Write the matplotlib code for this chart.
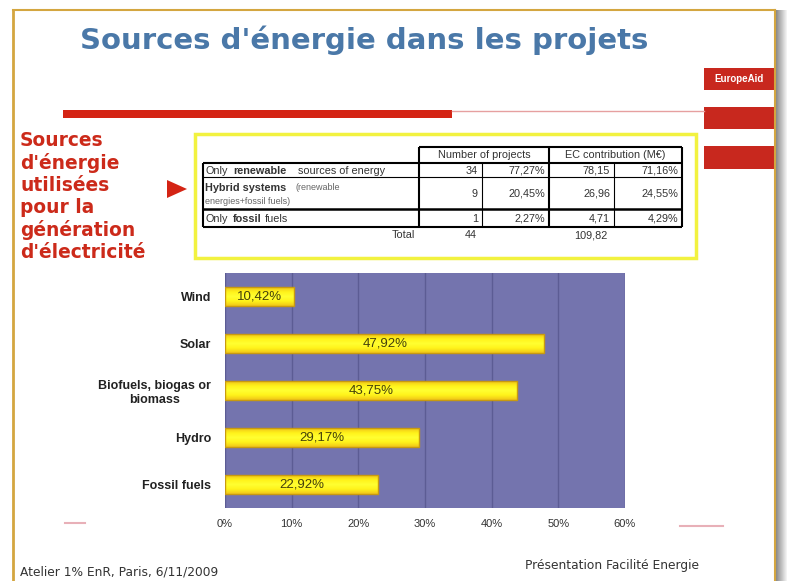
import matplotlib.pyplot as plt
import numpy as np
from matplotlib.patches import Rectangle, Polygon
from matplotlib.colors import LinearSegmentedColormap

# chart data
sources = ["Wind", "Solar", "Biofuels, biogas or\nbiomass", "Hydro", "Fossil fuels"]
shares = [10.42, 47.92, 43.75, 29.17, 22.92]
x_ticks = [0, 10, 20, 30, 40, 50, 60]

# table data
n_projects = [34, 9, 1]
pct_projects = ["77,27%", "20,45%", "2,27%"]
ec_contrib = ["78,15", "26,96", "4,71"]
pct_ec = ["71,16%", "24,55%", "4,29%"]
total_projects = "44"
total_ec = "109,82"

side_lines = ["Sources", "d'énergie", "utilisées", "pour la", "génération", "d'électricité"]

W, H = 787, 581
fig = plt.figure(figsize=(W / 100, H / 100), dpi=100)
fig.patch.set_facecolor("white")

# overlay axes in pixel coordinates for the slide decoration
bg = fig.add_axes([0, 0, 1, 1], zorder=0)
bg.set_xlim(0, W)
bg.set_ylim(H, 0)
bg.axis("off")

# slide frame
gold = "#d4a640"
bg.plot([13, 13], [10, H], color=gold, lw=2)
bg.plot([13, 775], [10, 10], color=gold, lw=1.5)
for i, c in enumerate(np.linspace(0.55, 0.95, 11)):
    bg.add_patch(Rectangle((776 + i, 10), 1, H, color=str(c), lw=0))
bg.plot([775, 775], [10, H], color=gold, lw=1.5)

# title
bg.text(364, 40, "Sources d'énergie dans les projets", ha="center", va="center",
        fontsize=21, fontweight="bold", color="#4a78a8", family="DejaVu Sans")

# red bars / EuropeAid
red = "#c8281e"
bg.add_patch(Rectangle((704, 68), 70, 22, color=red, lw=0))
bg.text(739, 79, "EuropeAid", ha="center", va="center", color="white",
        fontsize=7, fontweight="bold", family="Liberation Sans")
bg.add_patch(Rectangle((704, 107), 70, 22, color=red, lw=0))
bg.add_patch(Rectangle((704, 146), 70, 23, color=red, lw=0))
bg.add_patch(Rectangle((63, 110), 389, 8, color="#d42414", lw=0))
bg.plot([452, 704], [111, 111], color="#e6a0a0", lw=1)

# pale red lines near the axis
bg.plot([65, 85], [523, 523], color="#e8b0b8", lw=1.5)
bg.plot([680, 723], [526, 526], color="#e8b0b8", lw=1.5)

# left text
for i, s in enumerate(side_lines):
    bg.text(20, 140 + i * 22.6, s, ha="left", va="center", fontsize=13.4,
            fontweight="bold", color="#cc2a1a", family="DejaVu Sans")
bg.add_patch(Polygon([(167, 180), (167, 198), (187, 189)], closed=True,
                     color="#d42414", lw=0))

# yellow box with table
bg.add_patch(Rectangle((195, 134), 501, 124, facecolor="white",
                       edgecolor="#f2f240", lw=2.5))
tk = dict(color="black", solid_capstyle="butt")
bg.plot([419, 682], [147, 147], lw=1.5, **tk)
bg.plot([549, 549], [147, 227], lw=1.5, **tk)
bg.plot([419, 419], [147, 227], lw=1.5, **tk)
bg.plot([682, 682], [147, 227], lw=1.5, **tk)
bg.plot([203, 203], [163, 227], lw=1.5, **tk)
bg.plot([482, 482], [163, 227], lw=0.8, **tk)
bg.plot([614, 614], [163, 227], lw=0.8, **tk)
bg.plot([203, 682], [163, 163], lw=1.5, **tk)
bg.plot([203, 682], [177, 177], lw=0.8, **tk)
bg.plot([203, 682], [209, 209], lw=1.8, **tk)
bg.plot([203, 682], [227, 227], lw=1.5, **tk)

tf = dict(family="Liberation Sans", fontsize=7.8, color="#333333", va="center")
bg.text(484, 155.5, "Number of projects", ha="center", **tf)
bg.text(615, 155.5, "EC contribution (M€)", ha="center", **tf)

bg.text(205, 170.5, "Only", ha="left", **tf)
bg.text(233, 170.5, "renewable", ha="left", fontweight="bold", **tf)
bg.text(298, 170.5, "sources of energy", ha="left", **tf)
bg.text(205, 188, "Hybrid systems", ha="left", fontweight="bold", **tf)
small = dict(tf, fontsize=6.5, color="#666666")
bg.text(296, 188, "(renewable", ha="left", **small)
bg.text(205, 202, "energies+fossil fuels)", ha="left", **small)
bg.text(205, 218.5, "Only", ha="left", **tf)
bg.text(233, 218.5, "fossil", ha="left", fontweight="bold", **tf)
bg.text(265, 218.5, "fuels", ha="left", **tf)

row_y = [170.5, 194, 218.5]
for i in range(3):
    bg.text(478, row_y[i], str(n_projects[i]), ha="right", **tf)
    bg.text(545, row_y[i], pct_projects[i], ha="right", **tf)
    bg.text(610, row_y[i], ec_contrib[i], ha="right", **tf)
    bg.text(678, row_y[i], pct_ec[i], ha="right", **tf)
bg.text(415, 235, "Total", ha="right", **tf)
bg.text(477, 235, total_projects, ha="right", **tf)
bg.text(607, 235, total_ec, ha="right", **tf)

# footer
bg.text(20, 572, "Atelier 1% EnR, Paris, 6/11/2009", ha="left", va="center",
        fontsize=8.8, color="#333333", family="DejaVu Sans")
bg.text(525, 566, "Présentation Facilité Energie", ha="left", va="center",
        fontsize=8.8, color="#333333", family="DejaVu Sans")

# bar chart
ax = fig.add_axes([225 / W, 1 - 508 / H, 400 / W, 235 / H], zorder=1)
ax.set_facecolor("#7474ae")
ypos = np.arange(len(sources))
bh = 0.40
bars = ax.barh(ypos, shares, height=bh, facecolor="none", edgecolor="#c89a10",
               lw=1, zorder=3)
grad = np.linspace(0, 1, 50)
grad = 1 - np.abs(grad - 0.5) * 2
grad = grad[:, None]
cmap = LinearSegmentedColormap.from_list("yel", ["#f0c418", "#fff21a", "#ffff30"])
for b, v, y in zip(bars, shares, ypos):
    im = ax.imshow(grad, cmap=cmap, aspect="auto", extent=(0, v, y + bh / 2, y - bh / 2),
                   zorder=2, interpolation="bilinear")
    im.set_clip_path(b)
    ax.text(v / 2, y, f"{v:.2f}%".replace(".", ","), ha="center", va="center",
            fontsize=9.5, color="#44400a", family="Liberation Sans", zorder=4)

ax.set_xlim(0, 60)
ax.set_ylim(4.5, -0.5)
ax.set_xticks(x_ticks)
ax.set_xticklabels([f"{t}%" for t in x_ticks], family="Liberation Sans",
                   fontsize=8, color="#333333")
ax.set_yticks(ypos)
ax.set_yticklabels(sources, family="Liberation Sans", fontsize=9,
                   fontweight="bold", color="#222222", multialignment="center")
ax.tick_params(axis="both", length=0)
ax.tick_params(axis="y", pad=10)
ax.tick_params(axis="x", pad=8)
ax.grid(axis="x", color="#5c5c94", lw=1, zorder=1)
ax.set_axisbelow(True)
for s in ax.spines.values():
    s.set_visible(False)

fig.savefig("out.png", dpi=100)
